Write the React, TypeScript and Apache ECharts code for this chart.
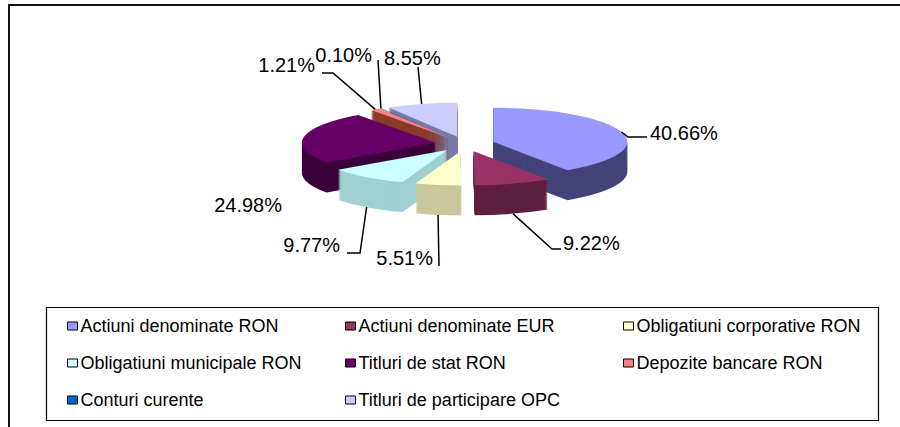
import { useEffect, useRef } from "react";
import * as echarts from "echarts";

// ---- data ----
const categories = [
  "Actiuni denominate RON",
  "Actiuni denominate EUR",
  "Obligatiuni corporative RON",
  "Obligatiuni municipale RON",
  "Titluri de stat RON",
  "Depozite bancare RON",
  "Conturi curente",
  "Titluri de participare OPC",
];
const shares = [40.66, 9.22, 5.51, 9.77, 24.98, 1.21, 0.1, 8.55];
const labelTexts = ["40.66%", "9.22%", "5.51%", "9.77%", "24.98%", "1.21%", "0.10%", "8.55%"];

// ---- styles ----
const topColors = ["#9999FF", "#993366", "#FFFFCC", "#CCFFFF", "#660066", "#FF8080", "#0066CC", "#CCCCFF"];
const wallColors = ["#44447A", "#5E1F40", "#C9C89C", "#A0D0D0", "#3A003A", "#8C3B2B", "#003A75", "#7A7AA8"];

// ---- layout (pixels) ----
const CX = 465;
const CY = 144;
const RX = 134;
const RY = 34;
const DEPTH = 30;
const EXPLODE = 29.5;
const K = RY / RX;

type LabelPos = { pts: number[][] | null; x: number; y: number; align: "left" | "right" };
const labelLayout: LabelPos[] = [
  { pts: [[628, 137], [647, 137]], x: 650, y: 133, align: "left" },
  { pts: [[552, 249], [561, 249]], x: 563, y: 243, align: "left" },
  { pts: [[439, 266]], x: 433, y: 258, align: "right" },
  { pts: [[360, 253], [347, 253]], x: 340, y: 245, align: "right" },
  { pts: null, x: 282, y: 205, align: "right" },
  { pts: [[333, 73], [322, 73]], x: 315, y: 65, align: "right" },
  { pts: [[378, 60]], x: 372, y: 55, align: "right" },
  { pts: [[418, 67]], x: 384, y: 58, align: "left" },
];
const legendCols = [67, 345, 623];
const legendRows = [326, 363, 400];

const FONT = "Liberation Sans, Arial, sans-serif";

export default function App() {
  const ref = useRef<HTMLDivElement>(null);

  useEffect(() => {
    if (!ref.current) return;
    const chart = echarts.init(ref.current, undefined, { renderer: "svg" });

    const total = shares.reduce((a, b) => a + b, 0);
    let acc = 0;
    const slices = shares.map((v) => {
      const a0 = (acc / total) * Math.PI * 2;
      acc += v;
      const a1 = (acc / total) * Math.PI * 2;
      return { a0, a1, mid: (a0 + a1) / 2 };
    });
    // back-to-front rank
    const order = slices
      .map((s, i) => ({ i, c: Math.cos(s.mid) }))
      .sort((a, b) => b.c - a.c)
      .map((o) => o.i);
    const rank: number[] = [];
    order.forEach((idx, r) => (rank[idx] = r));

    const buildSlice = (i: number) => {
      const s = slices[i];
      const tx = CX + EXPLODE * Math.sin(s.mid);
      const ty = CY - EXPLODE * Math.cos(s.mid) * K;
      const shape = {
        cx: 0,
        cy: 0,
        r0: 0,
        r: RX,
        startAngle: s.a0 - Math.PI / 2,
        endAngle: s.a1 - Math.PI / 2,
        clockwise: true,
      };
      const children: any[] = [];
      for (let dy = DEPTH; dy >= 1; dy--) {
        children.push({
          type: "sector",
          x: tx,
          y: ty + dy,
          scaleY: K,
          z2: rank[i] * 2,
          shape,
          style: { fill: wallColors[i] },
        });
      }
      children.push({
        type: "sector",
        x: tx,
        y: ty,
        scaleY: K,
        z2: rank[i] * 2 + 1,
        shape,
        style: { fill: topColors[i] },
      });
      const front = Math.cos(s.mid) < 0;
      const ex = tx + RX * Math.sin(s.mid);
      const ey = ty - RX * Math.cos(s.mid) * K + (front ? DEPTH : 0);
      const lay = labelLayout[i];
      if (lay.pts) {
        children.push({
          type: "polyline",
          z2: 100,
          shape: { points: [[ex, ey], ...lay.pts] },
          style: { stroke: "#000", lineWidth: 1.5, fill: null },
        });
      }
      children.push({
        type: "text",
        z2: 101,
        style: {
          text: labelTexts[i],
          x: lay.x,
          y: lay.y,
          align: lay.align,
          verticalAlign: "middle",
          fill: "#000",
          fontSize: 20,
          fontFamily: FONT,
        },
      });
      return { type: "group", children };
    };

    chart.setOption({
      animation: false,
      backgroundColor: "#fff",
      graphic: [
        {
          type: "rect",
          shape: { x: 9, y: 5, width: 1000, height: 1000 },
          style: { fill: "none", stroke: "#111", lineWidth: 2 },
          z: 0,
        },
        {
          type: "rect",
          shape: { x: 46.5, y: 307.5, width: 832, height: 113 },
          style: { fill: "none", stroke: "#000", lineWidth: 1.2 },
          z: 0,
        },
      ],
      legend: categories.map((name, i) => ({
        data: [name],
        left: legendCols[i % 3],
        top: legendRows[Math.floor(i / 3)] - 9,
        icon: "rect",
        itemWidth: 10,
        itemHeight: 8,
        padding: 0,
        selectedMode: false,
        itemStyle: { borderColor: "#000", borderWidth: 1 },
        textStyle: { fontSize: 18, fontFamily: FONT, color: "#000", padding: [0, 0, 0, -2] },
      })),
      series: categories.map((name, i) => ({
        type: "custom",
        name,
        coordinateSystem: "none",
        silent: true,
        data: [[i, shares[i]]],
        itemStyle: { color: topColors[i] },
        renderItem: (_params: any, api: any) => buildSlice(api.value(0)),
      })),
    });

    return () => chart.dispose();
  }, []);

  return (
    <div
      ref={ref}
      style={{ position: "fixed", left: 0, top: 0, width: 900, height: 427 }}
    />
  );
}
